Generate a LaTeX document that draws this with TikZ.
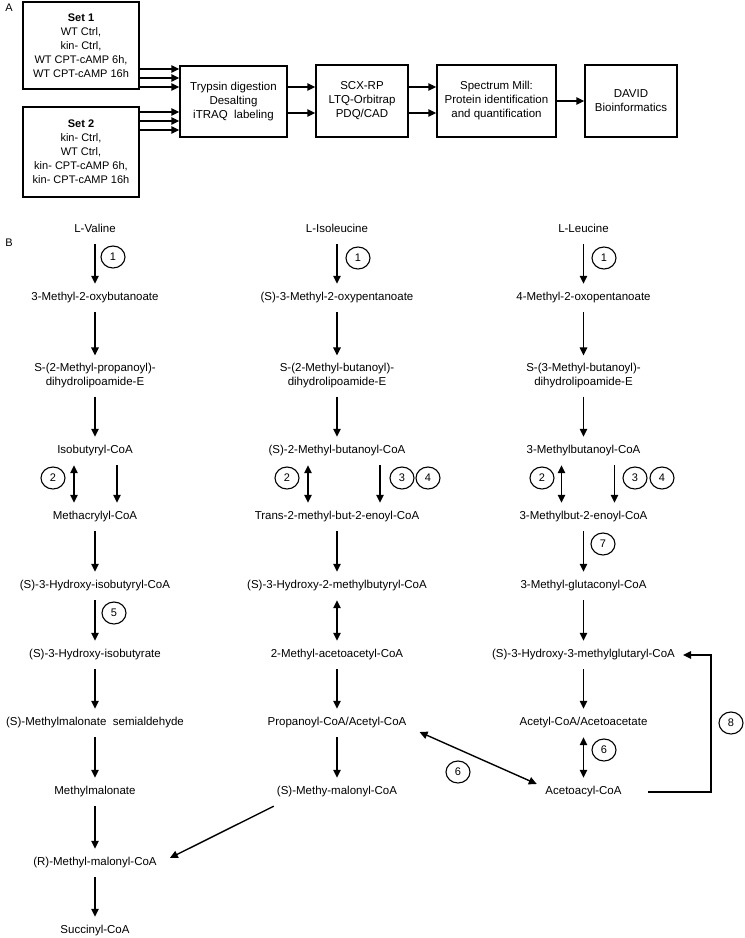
\documentclass[tikz,border=0pt]{standalone}
\usepackage{fontspec}
\setmainfont{Liberation Sans}
\usetikzlibrary{arrows.meta,shapes.geometric}
\begin{document}
\begin{tikzpicture}[x=1pt,y=-1pt,
  arr/.style={line width=1.4pt,-{Triangle[length=8pt,width=7.5pt]}},
  darr/.style={line width=1.4pt,{Triangle[length=8pt,width=7.5pt]}-{Triangle[length=8pt,width=7.5pt]}},
  box/.style={draw,line width=1.4pt,align=center,inner sep=0pt,font=\fontsize{11.5}{14}\selectfont},
  setbox/.style={box,font=\fontsize{11}{14}\selectfont},
  met/.style={align=center,inner xsep=3pt,inner ysep=8.5pt,text height=8pt,text depth=3pt,font=\fontsize{11.5}{14}\selectfont},
  met2/.style={align=center,inner xsep=3pt,inner ysep=8pt,font=\fontsize{11.5}{14}\selectfont},
  num/.style={ellipse,draw,line width=1.1pt,minimum width=24pt,minimum height=22pt,inner sep=0pt,font=\fontsize{11}{13}\selectfont},
  lab/.style={font=\fontsize{11}{13}\selectfont}]
\useasboundingbox (0,0) rectangle (745,938);

% ---------------- Panel A ----------------
\node[lab] (A) at (9,8) {A};
\node[setbox,minimum width=116pt,minimum height=87pt] (set1) at (81,45.5)
  {\textbf{Set 1}\\WT Ctrl,\\kin- Ctrl,\\WT CPT-cAMP 6h,\\WT CPT-cAMP 16h};
\node[setbox,minimum width=116pt,minimum height=90pt] (set2) at (81,152)
  {\textbf{Set 2}\\kin- Ctrl,\\WT Ctrl,\\kin- CPT-cAMP 6h,\\kin- CPT-cAMP 16h};
\node[box,minimum width=107pt,minimum height=71pt] (tryp) at (233.5,101.5)
  {Trypsin digestion\\Desalting\\iTRAQ\ \ labeling};
\node[box,minimum width=92pt,minimum height=72pt] (scx) at (362,101)
  {SCX-RP\\LTQ-Orbitrap\\PDQ/CAD};
\node[box,minimum width=119pt,minimum height=72pt] (spec) at (496.5,101)
  {Spectrum Mill:\\Protein identification\\and quantification};
\node[box,minimum width=92pt,minimum height=72pt] (david) at (631,101)
  {DAVID\\Bioinformatics};

\foreach \y in {69,78,87} \draw[arr] (set1.east |- 0,\y) -- (tryp.west |- 0,\y);
\foreach \y in {112,121,130} \draw[arr] (set2.east |- 0,\y) -- (tryp.west |- 0,\y);
\foreach \y in {87,113} \draw[arr] (tryp.east |- 0,\y) -- (scx.west |- 0,\y);
\foreach \y in {87,113} \draw[arr] (scx.east |- 0,\y) -- (spec.west |- 0,\y);
\draw[arr] (spec.east) -- (david.west);

% ---------------- Panel B ----------------
\node[lab] (B) at (9,243) {B};

% Valine column
\node[met] (V0) at (95,230) {L-Valine};
\node[met] (V1) at (95,298) {3-Methyl-2-oxybutanoate};
\node[met2] (V2) at (95,376) {S-(2-Methyl-propanoyl)-\\dihydrolipoamide-E};
\node[met] (V3) at (95,451) {Isobutyryl-CoA};
\node[met] (V4) at (95,517) {Methacrylyl-CoA};
\node[met] (V5) at (95,586) {(S)-3-Hydroxy-isobutyryl-CoA};
\node[met] (V6) at (95,655) {(S)-3-Hydroxy-isobutyrate};
\node[met] (V7) at (95,723) {(S)-Methylmalonate\ \ semialdehyde};
\node[met] (V8) at (95,792) {Methylmalonate};
\node[met] (V9) at (95,863) {(R)-Methyl-malonyl-CoA};
\node[met] (V10) at (95,931) {Succinyl-CoA};

\draw[arr] (V0.south) -- (V1.north);
\draw[arr] (V1.south) -- (V2.north);
\draw[arr] (V2.south) -- (V3.north);
\draw[darr] ([xshift=-21pt]V3.south) -- ([xshift=-21pt]V4.north);
\draw[arr] ([xshift=22pt]V3.south) -- ([xshift=22pt]V4.north);
\draw[arr] (V4.south) -- (V5.north);
\draw[arr] (V5.south) -- (V6.north);
\draw[arr] (V6.south) -- (V7.north);
\draw[arr] (V7.south) -- (V8.north);
\draw[arr] (V8.south) -- (V9.north);
\draw[arr] (V9.south) -- (V10.north);

\node[num] (nv1) at (113,257) {1};
\node[num] (nv2) at (53,478) {2};
\node[num] (nv5) at (114,613) {5};

% Isoleucine column
\node[met] (I0) at (337,230) {L-Isoleucine};
\node[met] (I1) at (337,298) {(S)-3-Methyl-2-oxypentanoate};
\node[met2] (I2) at (337,376) {S-(2-Methyl-butanoyl)-\\dihydrolipoamide-E};
\node[met] (I3) at (337,451) {(S)-2-Methyl-butanoyl-CoA};
\node[met] (I4) at (337,517) {Trans-2-methyl-but-2-enoyl-CoA};
\node[met] (I5) at (337,586) {(S)-3-Hydroxy-2-methylbutyryl-CoA};
\node[met] (I6) at (337,655) {2-Methyl-acetoacetyl-CoA};
\node[met] (I7) at (337,723) {Propanoyl-CoA/Acetyl-CoA};
\node[met] (I8) at (337,792) {(S)-Methy-malonyl-CoA};

\draw[arr] (I0.south) -- (I1.north);
\draw[arr] (I1.south) -- (I2.north);
\draw[arr] (I2.south) -- (I3.north);
\draw[darr] ([xshift=-29pt]I3.south) -- ([xshift=-29pt]I4.north);
\draw[arr] ([xshift=43pt]I3.south) -- ([xshift=43pt]I4.north);
\draw[arr] (I4.south) -- (I5.north);
\draw[darr] (I5.south) -- (I6.north);
\draw[arr] (I6.south) -- (I7.north);
\draw[arr] (I7.south) -- (I8.north);
\draw[arr] (I8.south west) -- ([xshift=10pt,yshift=5pt]V9.east);

\node[num] (ni1) at (358,258) {1};
\node[num] (ni2) at (287,478) {2};
\node[num] (ni3) at (402,478) {3};
\node[num] (ni4) at (428,478) {4};

% Leucine column
\node[met] (L0) at (583.5,230) {L-Leucine};
\node[met] (L1) at (583.5,298) {4-Methyl-2-oxopentanoate};
\node[met2] (L2) at (583.5,376) {S-(3-Methyl-butanoyl)-\\dihydrolipoamide-E};
\node[met] (L3) at (583.5,451) {3-Methylbutanoyl-CoA};
\node[met] (L4) at (583.5,517) {3-Methylbut-2-enoyl-CoA};
\node[met] (L5) at (583.5,586) {3-Methyl-glutaconyl-CoA};
\node[met] (L6) at (583.5,655) {(S)-3-Hydroxy-3-methylglutaryl-CoA};
\node[met] (L7) at (583.5,723) {Acetyl-CoA/Acetoacetate};
\node[met] (L8) at (583.5,792) {Acetoacyl-CoA};

\draw[arr] (L0.south) -- (L1.north);
\draw[arr] (L1.south) -- (L2.north);
\draw[arr] (L2.south) -- (L3.north);
\draw[darr] ([xshift=-22pt]L3.south) -- ([xshift=-22pt]L4.north);
\draw[arr] ([xshift=31pt]L3.south) -- ([xshift=31pt]L4.north);
\draw[arr] (L4.south) -- (L5.north);
\draw[arr] (L5.south) -- (L6.north);
\draw[arr] (L6.south) -- (L7.north);
\draw[darr] (L7.south) -- (L8.north);
\draw[arr] ([xshift=23.5pt]L8.east) -- (L8.east -| 711,0) |- ([xshift=5pt]L6.east);
\draw[darr] ([xshift=10pt,yshift=-9pt]I7.east) -- ([xshift=-5.5pt,yshift=8pt]L8.west);

\node[num] (nl1) at (604,258) {1};
\node[num] (nl2) at (542,478) {2};
\node[num] (nl3) at (635,478) {3};
\node[num] (nl4) at (662,478) {4};
\node[num] (nl7) at (603,544) {7};
\node[num] (nl6) at (604,750) {6};
\node[num] (nl8) at (731,723) {8};
\node[num] (nd6) at (458,772) {6};
\end{tikzpicture}
\end{document}
